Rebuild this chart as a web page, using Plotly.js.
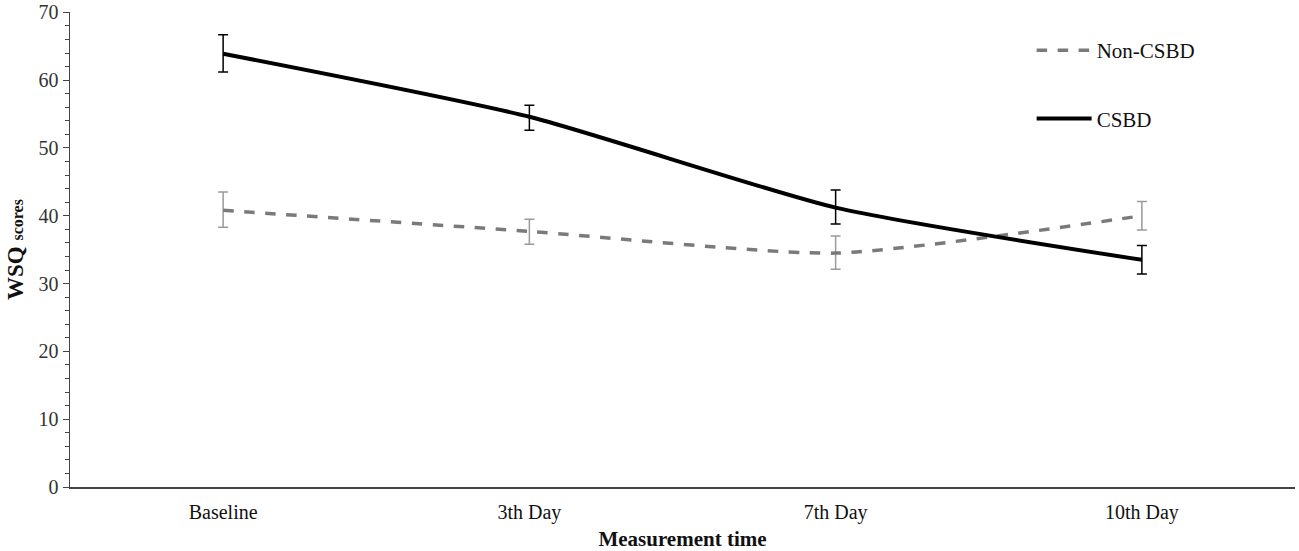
<!DOCTYPE html>
<html>
<head>
<meta charset="utf-8">
<script src="https://cdn.plot.ly/plotly-3.0.1.min.js"></script>
<style>
  html, body { margin: 0; padding: 0; background: #fff; }
  #container { width: 1299px; height: 551px; }
</style>
</head>
<body>
<div id="container"></div>
<script>
// time points
var timePoints = ['Baseline', '3th Day', '7th Day', '10th Day'];

// mean WSQ scores
var csbdMean = [63.9, 54.6, 41.2, 33.5];
var csbdUpper = [66.7, 56.3, 43.8, 35.6];
var csbdLower = [61.2, 52.6, 38.8, 31.4];

var nonCsbdMean = [40.8, 37.7, 34.5, 40.0];
var nonCsbdUpper = [43.5, 39.5, 37.0, 42.1];
var nonCsbdLower = [38.3, 35.8, 32.1, 37.9];

function diff(a, b) {
    return a.map(function(v, i) { return +(v - b[i]).toFixed(2); });
}

var serif = 'Liberation Serif, Times New Roman, serif';

var trace1 = {
    x: timePoints, y: nonCsbdMean,
    name: 'Non-CSBD',
    legendgroup: 'a',
    mode: 'lines',
    type: 'scatter',
    line: { color: '#7a7a7a', width: 3.5, dash: 'dash', shape: 'spline', smoothing: 0.6 },
    error_y: {
        type: 'data', symmetric: false,
        array: diff(nonCsbdUpper, nonCsbdMean),
        arrayminus: diff(nonCsbdMean, nonCsbdLower),
        color: '#9a9a9a', thickness: 1.5, width: 5
    }
};

var trace2 = {
    x: timePoints, y: csbdMean,
    name: 'CSBD',
    legendgroup: 'b',
    mode: 'lines',
    type: 'scatter',
    line: { color: '#000000', width: 4, shape: 'spline', smoothing: 0.6 },
    error_y: {
        type: 'data', symmetric: false,
        array: diff(csbdUpper, csbdMean),
        arrayminus: diff(csbdMean, csbdLower),
        color: '#000000', thickness: 1.5, width: 5
    }
};

var layout = {
    width: 1299,
    height: 551,
    margin: { l: 70, r: 4, t: 12, b: 64 },
    paper_bgcolor: '#fff',
    plot_bgcolor: '#fff',
    font: { family: serif, size: 20, color: '#111' },
    showlegend: true,
    legend: {
        x: 0.785, y: 0.962, xanchor: 'left', yanchor: 'top',
        bgcolor: 'rgba(0,0,0,0)',
        font: { family: serif, size: 21, color: '#111' },
        traceorder: 'grouped',
        tracegroupgap: 38,
        itemwidth: 55
    },
    xaxis: {
        type: 'category',
        range: [-0.5, 3.5],
        showgrid: false,
        zeroline: false,
        showline: true,
        linecolor: '#444',
        linewidth: 2,
        ticks: '',
        ticklabelstandoff: 6,
        tickfont: { family: serif, size: 20, color: '#111' },
        title: {
            text: '<b>Measurement time</b>',
            font: { family: serif, size: 21, color: '#111' },
            standoff: 12
        }
    },
    yaxis: {
        range: [0, 70.05],
        tick0: 0,
        dtick: 10,
        showgrid: false,
        zeroline: false,
        showline: true,
        linecolor: '#444',
        linewidth: 1.5,
        ticks: 'outside',
        ticklen: 6,
        tickcolor: '#444',
        ticklabeloverflow: 'allow',
        tickfont: { family: serif, size: 20, color: '#333' },
        minor: { dtick: 2, ticks: 'outside', ticklen: 4, tickcolor: '#444' },
        title: {
            text: '<b>WSQ <span style="font-size:16px">scores</span></b>',
            font: { family: serif, size: 23, color: '#111' },
            standoff: 8
        }
    }
};

Plotly.newPlot('container', [trace1, trace2], layout, { displayModeBar: false, staticPlot: true });
</script>
</body>
</html>
